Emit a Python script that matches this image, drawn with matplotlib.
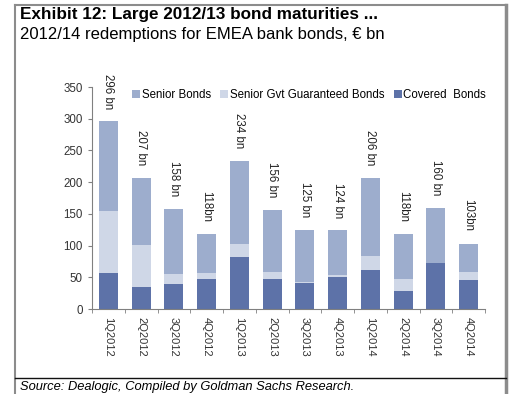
import numpy as np
import matplotlib.pyplot as plt
from matplotlib.lines import Line2D

plt.rcParams['font.family'] = ['Liberation Sans', 'DejaVu Sans']

quarters = ['1Q2012', '2Q2012', '3Q2012', '4Q2012', '1Q2013', '2Q2013',
            '3Q2013', '4Q2013', '1Q2014', '2Q2014', '3Q2014', '4Q2014']
covered = [56, 34, 39, 48, 82, 47, 41, 51, 62, 29, 73, 45]
gvt_guaranteed = [98, 67, 16, 8, 21, 11, 2, 3, 21, 18, 0, 13]
totals = [296, 207, 158, 118, 234, 156, 125, 124, 206, 118, 160, 103]
total_labels = ['296 bn', '207 bn', '158 bn', '118bn', '234 bn', '156 bn',
                '125 bn', '124 bn', '206 bn', '118bn', '160 bn', '103bn']

covered = np.array(covered)
gvt_guaranteed = np.array(gvt_guaranteed)
senior = np.array(totals) - covered - gvt_guaranteed

c_senior = '#9dadcd'
c_gvt = '#cfd7e7'
c_covered = '#5d72a8'

fig = plt.figure(figsize=(5.12, 3.94), dpi=100)
ax = fig.add_axes([92 / 512, 1 - 309 / 394, 393 / 512, 222 / 394])

x = np.arange(len(quarters))
w = 0.58
ax.bar(x, covered, w, color=c_covered, label='Covered  Bonds')
ax.bar(x, gvt_guaranteed, w, bottom=covered, color=c_gvt,
       label='Senior Gvt Guaranteed Bonds')
ax.bar(x, senior, w, bottom=covered + gvt_guaranteed, color=c_senior,
       label='Senior Bonds')

for xi, t, lab in zip(x, totals, total_labels):
    ax.annotate(lab, (xi, t), xytext=(0, 9), textcoords='offset points',
                rotation=-90, ha='center', va='bottom', fontsize=8.3,
                color='#222222', annotation_clip=False)

ax.set_xlim(-0.5, len(quarters) - 0.5)
ax.set_ylim(0, 350)
ax.set_yticks(range(0, 351, 50))
ax.set_xticks(x)
ax.set_xticklabels(quarters, rotation=-90, fontsize=8, color='#333333')
ax.set_xticks(np.arange(-0.5, len(quarters), 1), minor=True)
ax.tick_params(axis='x', which='major', length=0, pad=6)
ax.tick_params(axis='x', which='minor', length=3, color='#808080')
ax.tick_params(axis='y', length=3, color='#808080', labelsize=8.3,
               labelcolor='#333333')
for s in ['top', 'right']:
    ax.spines[s].set_visible(False)
for s in ['left', 'bottom']:
    ax.spines[s].set_color('#808080')

handles, labels = ax.get_legend_handles_labels()
order = [2, 1, 0]
ax.legend([handles[i] for i in order], [labels[i] for i in order],
          loc='upper left', bbox_to_anchor=(0.09, 1.01), ncol=3,
          frameon=False, fontsize=8.3, handlelength=0.7, handleheight=0.7,
          handletextpad=0.15, columnspacing=0.8, borderaxespad=0)

# Frame, titles and source
fig.add_artist(Line2D([15 / 512, 15 / 512], [0, 1 - 5 / 394],
                      transform=fig.transFigure, color='#8c8c8c', lw=1.5))
fig.add_artist(Line2D([15 / 512, 506 / 512], [1 - 5 / 394, 1 - 5 / 394],
                      transform=fig.transFigure, color='#8c8c8c', lw=1.5))
fig.add_artist(Line2D([506 / 512, 506 / 512], [0, 1 - 5 / 394],
                      transform=fig.transFigure, color='#8c8c8c', lw=2.5))
fig.add_artist(Line2D([15 / 512, 506 / 512], [1 - 378 / 394, 1 - 378 / 394],
                      transform=fig.transFigure, color='#111111', lw=1))

fig.text(20 / 512, 1 - 14 / 394, 'Exhibit 12: Large 2012/13 bond maturities ...',
         fontsize=12.3, fontweight='bold', va='center', ha='left')
fig.text(20 / 512, 1 - 34 / 394, '2012/14 redemptions for EMEA bank bonds, € bn',
         fontsize=12, va='center', ha='left')
fig.text(20 / 512, 1 - 387 / 394,
         'Source: Dealogic, Compiled by Goldman Sachs Research.',
         fontsize=9.3, style='italic', va='center', ha='left')

fig.savefig('out.png', dpi=100)
